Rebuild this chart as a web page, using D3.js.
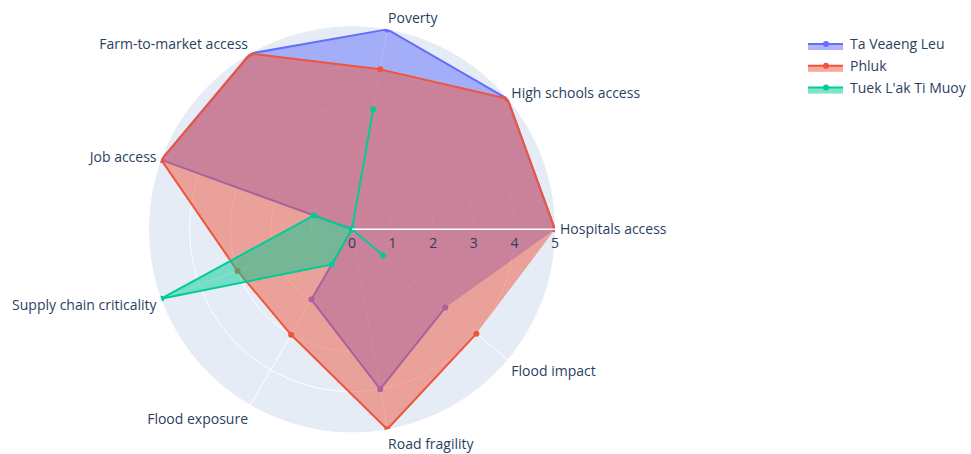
<!DOCTYPE html>
<html>
<head>
<meta charset="utf-8">
<script src="https://cdn.jsdelivr.net/npm/d3@7"></script>
<style>
  body { margin: 0; background: #fff; }
  svg { display: block; font-family: "Open Sans", sans-serif; }
</style>
</head>
<body>
<div id="chart"></div>
<script>
// categories go counter-clockwise from 0 degrees
const categories = [
  "Hospitals access", "High schools access", "Poverty", "Farm-to-market access",
  "Job access", "Supply chain criticality", "Flood exposure", "Road fragility", "Flood impact"
];
const seriesNames = ["Ta Veaeng Leu", "Phluk", "Tuek L'ak Ti Muoy"];
const taVeaengLeu = [5, 5, 5, 5, 5, 0, 2, 4, 3];
const phluk = [5, 5, 4, 5, 5, 3, 3, 5, 4];
const tuekLak = [0, 0, 3, 0, 1, 5, 1, 0, 1];
const radialTicks = [0, 1, 2, 3, 4, 5];
const colors = ["#636efa", "#EF553B", "#00cc96"];

const width = 971, height = 454;
const cx = 352, cy = 229.3, R = 203;
const textColor = "#2a3f5f";

const series = [taVeaengLeu, phluk, tuekLak];

const svg = d3.select("#chart").append("svg")
  .attr("width", width).attr("height", height);

const r = d3.scaleLinear().domain([0, 5]).range([0, R]);
const angle = d3.scalePoint().domain(categories).range([0, 360 * (categories.length - 1) / categories.length]);
const toRad = d => d * Math.PI / 180;
const px = (cat, v) => cx + r(v) * Math.cos(toRad(angle(cat)));
const py = (cat, v) => cy - r(v) * Math.sin(toRad(angle(cat)));

svg.append("defs").append("clipPath").attr("id", "polarclip")
  .append("circle").attr("cx", cx).attr("cy", cy).attr("r", R);

// background + grid
const grid = svg.append("g");
grid.append("circle").attr("cx", cx).attr("cy", cy).attr("r", R).attr("fill", "#e5ecf6");
grid.selectAll(".rgrid").data(radialTicks.slice(1, -1)).enter().append("circle")
  .attr("cx", cx).attr("cy", cy).attr("r", d => r(d))
  .attr("fill", "none").attr("stroke", "#fff").attr("stroke-width", 1);
grid.selectAll(".agrid").data(categories).enter().append("line")
  .attr("x1", cx).attr("y1", cy)
  .attr("x2", d => px(d, 5)).attr("y2", d => py(d, 5))
  .attr("stroke", "#fff").attr("stroke-width", 1);

// traces
const plot = svg.append("g").attr("clip-path", "url(#polarclip)");
const line = d3.line().x(d => px(d.cat, d.v)).y(d => py(d.cat, d.v));
series.forEach((vals, i) => {
  const pts = categories.map((c, j) => ({ cat: c, v: vals[j] }));
  const g = plot.append("g");
  g.append("path").attr("d", line(pts) + "Z")
    .attr("fill", colors[i]).attr("fill-opacity", 0.5).attr("stroke", "none");
  g.append("path").attr("d", line(pts))
    .attr("fill", "none").attr("stroke", colors[i]).attr("stroke-width", 2)
    .attr("stroke-linejoin", "round");
  g.selectAll("circle").data(pts).enter().append("circle")
    .attr("cx", d => px(d.cat, d.v)).attr("cy", d => py(d.cat, d.v))
    .attr("r", 3).attr("fill", colors[i]);
});

// radial axis line + ticks
svg.append("line").attr("x1", cx).attr("y1", cy).attr("x2", cx + R).attr("y2", cy)
  .attr("stroke", "#fff").attr("stroke-width", 1.5);
svg.selectAll(".rtick").data(radialTicks).enter().append("text")
  .attr("x", d => cx + r(d)).attr("y", cy + 18.8)
  .attr("text-anchor", "middle").attr("font-size", 14).attr("fill", textColor)
  .text(d => d);

// angular labels
const pad = 5, fs = 14;
svg.selectAll(".alabel").data(categories).enter().append("text")
  .attr("x", d => cx + (R + pad) * Math.cos(toRad(angle(d))))
  .attr("y", d => {
    const a = toRad(angle(d));
    const s = Math.sin(a), c = Math.cos(a);
    const ff = s > 0 ? 0.2 : 1;
    return cy - s * R - s * (pad + fs * ff) + Math.abs(c) * fs * 0.35;
  })
  .attr("text-anchor", d => {
    const c = Math.cos(toRad(angle(d)));
    return Math.abs(c) < 0.01 ? "middle" : (c > 0 ? "start" : "end");
  })
  .attr("font-size", fs).attr("fill", textColor)
  .text(d => d);

// legend
const legend = svg.append("g").attr("transform", "translate(803,44)");
seriesNames.forEach((name, i) => {
  const g = legend.append("g").attr("transform", `translate(0,${i * 21.8})`);
  g.append("rect").attr("x", 5).attr("y", 0).attr("width", 35).attr("height", 6)
    .attr("fill", colors[i]).attr("fill-opacity", 0.5);
  g.append("line").attr("x1", 5).attr("x2", 40).attr("y1", 0).attr("y2", 0)
    .attr("stroke", colors[i]).attr("stroke-width", 2);
  g.append("circle").attr("cx", 23).attr("cy", 0).attr("r", 3).attr("fill", colors[i]);
  g.append("text").attr("x", 47).attr("y", 5)
    .attr("font-size", 14).attr("fill", textColor).text(name);
});
</script>
</body>
</html>
